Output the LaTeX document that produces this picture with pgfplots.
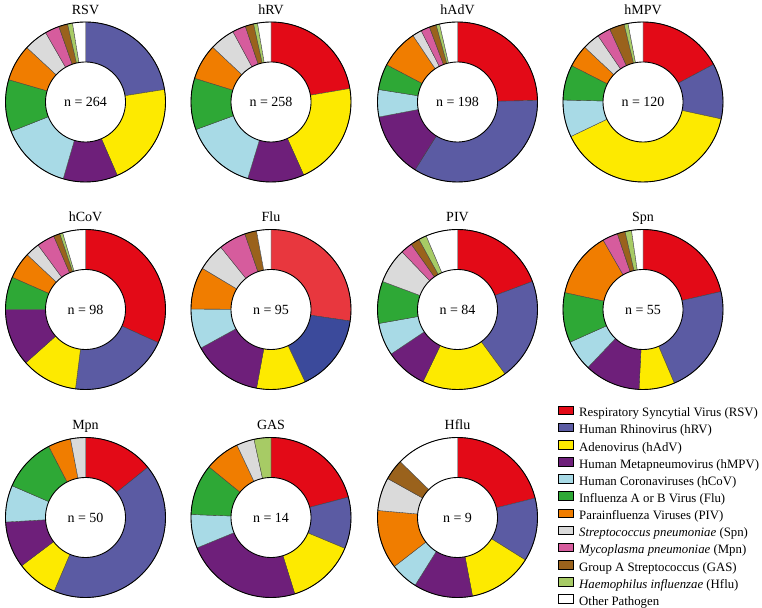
\documentclass[border=0pt]{standalone}
\usepackage{pgfplots}
\pgfplotsset{compat=1.18}
\usepackage{fontspec}
\setmainfont{Liberation Serif}
\definecolor{cRSV}{HTML}{E30A17}
\definecolor{cRSVb}{HTML}{E8373E}
\definecolor{cRV}{HTML}{5B5BA3}
\definecolor{cRVb}{HTML}{3B4A9B}
\definecolor{cAdV}{HTML}{FDEA00}
\definecolor{cMPV}{HTML}{6E1F7A}
\definecolor{cCoV}{HTML}{A8DAE6}
\definecolor{cFlu}{HTML}{2EA836}
\definecolor{cPIV}{HTML}{F07D00}
\definecolor{cSpn}{HTML}{DADADA}
\definecolor{cMpn}{HTML}{D65C9D}
\definecolor{cGAS}{HTML}{9A621C}
\definecolor{cHflu}{HTML}{A7CB65}
\definecolor{cOth}{HTML}{FFFFFF}
\pgfplotsset{donutaxis/.style={width=160pt, height=160pt, scale only axis,
  xmin=-1, xmax=1, ymin=-1, ymax=1, hide axis, clip=false,
  title style={at={(0.5,1)}, anchor=base, yshift=1.5pt, font=\fontsize{14}{16}\selectfont}}}
% #1 x, #2 y, #3 title, #4 n, #5 colour/percent list (clockwise from top)
\newcommand{\donut}[5]{%
\begin{axis}[at={(#1pt,#2pt)}, anchor=center, donutaxis, title={#3}]
\gdef\cum{0}%
\foreach \col/\val in {#5}{%
  \pgfmathsetmacro\a{\cum*3.6}%
  \pgfmathsetmacro\b{(\cum+\val)*3.6}%
  \edef\temp{\noexpand\addplot[fill=\col, draw=black!75, line width=0.35pt, domain=\a:\b, samples=60] ({sin(x)},{cos(x)}) -- (axis cs:0,0) -- cycle;}%
  \temp
  \pgfmathsetmacro\newcum{\cum+\val}\xdef\cum{\newcum}%
}
\addplot[fill=white, draw=black, line width=0.9pt, domain=0:360, samples=120] ({0.5*cos(x)},{0.5*sin(x)});
\addplot[draw=black, line width=0.9pt, domain=0:360, samples=120] ({cos(x)},{sin(x)});
\node[font=\fontsize{14}{16}\selectfont] at (axis cs:0,0) {n = #4};
\end{axis}}
\begin{document}
\begin{tikzpicture}
\useasboundingbox (0,0) rectangle (762pt,607pt);
\donut{85.5}{505}{RSV}{264}{cRV/22.5, cAdV/21, cMPV/11, cCoV/14.5, cFlu/10.5, cPIV/7.4, cSpn/4.8, cMpn/2.9, cGAS/1.8, cHflu/1.0, cOth/2.6}
\donut{271}{505}{hRV}{258}{cRSV/22.3, cAdV/21, cMPV/11.4, cCoV/14.7, cFlu/10.4, cPIV/7.2, cSpn/5.1, cMpn/2.7, cGAS/1.7, cHflu/0.8, cOth/2.7}
\donut{457.5}{505}{hAdV}{198}{cRSV/24.7, cRV/34.2, cMPV/13.1, cCoV/5.5, cFlu/5.2, cPIV/7.9, cSpn/1.9, cMpn/1.8, cGAS/1.4, cHflu/0.7, cOth/3.6}
\donut{643}{505}{hMPV}{120}{cRSV/17.2, cRV/11.2, cAdV/39.5, cCoV/7.5, cFlu/7.1, cPIV/4.5, cSpn/3.5, cMpn/2.7, cGAS/3.0, cHflu/0.8, cOth/3.0}
\donut{85.5}{297.5}{hCoV}{98}{cRSV/31.8, cRV/20.2, cAdV/11.4, cMPV/11.6, cFlu/6.6, cPIV/5.4, cSpn/2.9, cMpn/3.6, cGAS/1.3, cHflu/0.6, cOth/4.6}
\donut{271}{297.5}{Flu}{95}{cRSVb/27.3, cRVb/15.7, cAdV/9.9, cMPV/14.1, cCoV/8.1, cPIV/8.5, cSpn/5.6, cMpn/5.5, cGAS/2.4, cOth/2.9}
\donut{457.5}{297.5}{PIV}{84}{cRSV/19.3, cRV/20.6, cAdV/17.2, cMPV/8.5, cCoV/6.6, cFlu/8.5, cSpn/7.1, cMpn/2.4, cGAS/1.8, cHflu/1.6, cOth/6.4}
\donut{643}{297.5}{Spn}{55}{cRSV/21.4, cRV/22.2, cAdV/7.2, cMPV/11.3, cCoV/6.2, cFlu/10.1, cPIV/13.3, cMpn/3.1, cGAS/1.6, cHflu/1.3, cOth/2.3}
\donut{85.5}{89.5}{Mpn}{50}{cRSV/14.2, cRV/42.2, cAdV/8.3, cMPV/9.4, cCoV/7.4, cFlu/10.9, cPIV/4.6, cSpn/3.0}
\donut{271}{89.5}{GAS}{14}{cRSV/20.9, cRV/10.4, cAdV/13.9, cMPV/23.6, cCoV/6.8, cFlu/10.3, cPIV/7.1, cSpn/3.6, cHflu/3.4}
\donut{457.5}{89.5}{Hflu}{9}{cRSV/21.1, cRV/12.8, cAdV/13.1, cMPV/11.9, cCoV/5.6, cPIV/11.9, cSpn/6.7, cGAS/4.2, cOth/12.7}
\begin{axis}[at={(457.5pt,89.5pt)}, anchor=center, width=160pt, height=160pt, scale only axis,
  xmin=-1, xmax=1, ymin=-1, ymax=1, hide axis,
  legend style={at={(1.13,1.199)}, anchor=north west, draw=none, fill=none, inner sep=0pt, outer sep=0pt,
    font=\fontsize{12.8}{14}\selectfont, row sep=3.1pt,
    nodes={inner sep=0pt, text height=9pt, text depth=3pt},
    /tikz/every odd column/.style={column sep=5.7pt}},
  legend cell align=left,
  legend image code/.code={\draw[#1, line width=0.9pt] (0pt,-1pt) rectangle (14.3pt,7.6pt);}]
\addlegendimage{fill=cRSV, draw=black}
\addlegendentry{Respiratory Syncytial Virus (RSV)}
\addlegendimage{fill=cRV, draw=black}
\addlegendentry{Human Rhinovirus (hRV)}
\addlegendimage{fill=cAdV, draw=black}
\addlegendentry{Adenovirus (hAdV)}
\addlegendimage{fill=cMPV, draw=black}
\addlegendentry{Human Metapneumovirus (hMPV)}
\addlegendimage{fill=cCoV, draw=black}
\addlegendentry{Human Coronaviruses (hCoV)}
\addlegendimage{fill=cFlu, draw=black}
\addlegendentry{Influenza A or B Virus (Flu)}
\addlegendimage{fill=cPIV, draw=black}
\addlegendentry{Parainfluenza Viruses (PIV)}
\addlegendimage{fill=cSpn, draw=black}
\addlegendentry{\textit{Streptococcus pneumoniae} (Spn)}
\addlegendimage{fill=cMpn, draw=black}
\addlegendentry{\textit{Mycoplasma pneumoniae} (Mpn)}
\addlegendimage{fill=cGAS, draw=black}
\addlegendentry{Group A Streptococcus (GAS)}
\addlegendimage{fill=cHflu, draw=black}
\addlegendentry{\textit{Haemophilus influenzae} (Hflu)}
\addlegendimage{fill=cOth, draw=black}
\addlegendentry{Other Pathogen}
\end{axis}
\end{tikzpicture}
\end{document}
